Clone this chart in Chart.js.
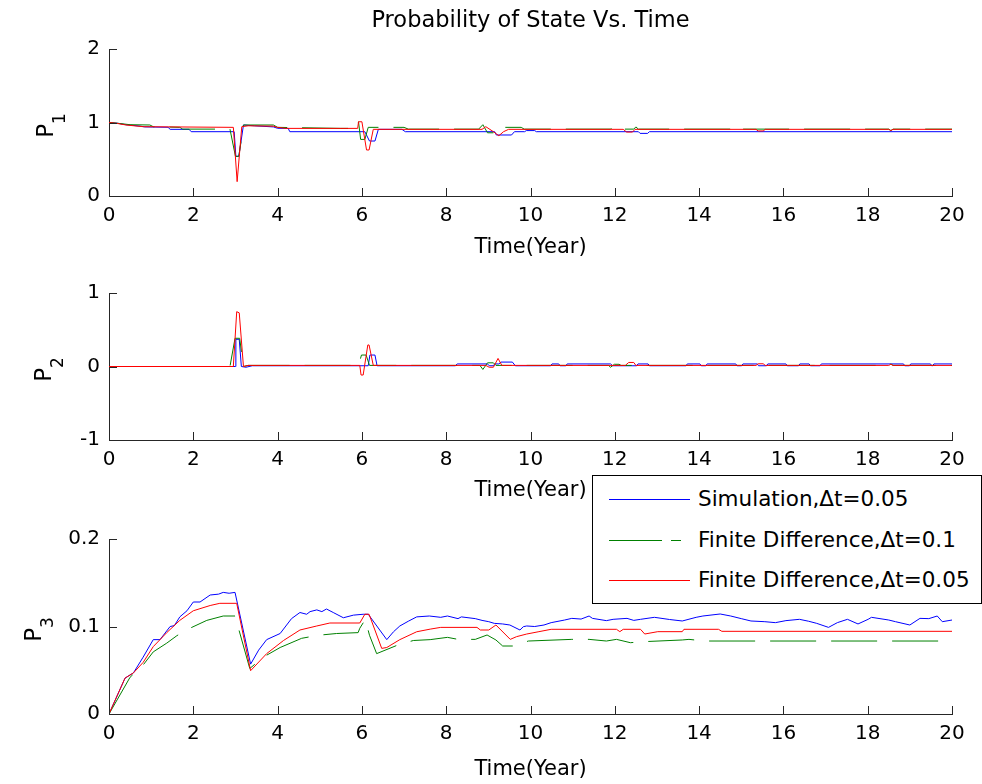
<!DOCTYPE html>
<html>
<head>
<meta charset="utf-8">
<script src="https://cdn.jsdelivr.net/npm/chart.js"></script>
<style>
    body { margin: 0; background: #fff; }
    #wrap { position: relative; width: 982px; height: 784px; overflow: hidden; font-family: "DejaVu Sans", sans-serif; }
    canvas { position: absolute; left: 0; }
    #legend { position: absolute; left: 592px; top: 475px; width: 390px; height: 129px; box-sizing: border-box;
        border: 1px solid #000; background: #fff; z-index: 10; }
    .row { position: absolute; left: 0; height: 26px; line-height: 26px; width: 100%; font-size: 21.5px; color: #000; }
    .row span.txt { position: absolute; left: 105px; white-space: nowrap; }
    .seg { position: absolute; top: 13px; height: 0; border-top-width: 1px; border-top-style: solid; }
</style>
</head>
<body>
<div id="wrap">
    <canvas id="chartP1" width="982" height="262" style="top:0px"></canvas>
    <canvas id="chartP2" width="982" height="242" style="top:262px"></canvas>
    <canvas id="chartP3" width="982" height="280" style="top:504px"></canvas>
    <div id="legend">
        <div class="row" style="top:10px">
            <div class="seg" style="left:16px;width:81px;border-top-color:#0000ff"></div>
            <span class="txt">Simulation,Δt=0.05</span>
        </div>
        <div class="row" style="top:51px">
            <div class="seg" style="left:16px;width:53px;border-top-color:#008000"></div>
            <div class="seg" style="left:78px;width:10px;border-top-color:#008000"></div>
            <span class="txt">Finite Difference,Δt=0.1</span>
        </div>
        <div class="row" style="top:91px">
            <div class="seg" style="left:16px;width:81px;border-top-color:#ff0000"></div>
            <span class="txt">Finite Difference,Δt=0.05</span>
        </div>
    </div>
</div>
<script>
// tick values
const timeTicks = [0, 2, 4, 6, 8, 10, 12, 14, 16, 18, 20];
const p1Ticks = [0, 1, 2];
const p2Ticks = [-1, 0, 1];
const p3Ticks = [0, 0.1, 0.2];

// [time, probability]
const p1Sim = [[0,1.0],[0.2,0.99],[0.4,0.97],[0.75,0.95],[0.85,0.94],[1.4,0.935],[1.45,0.907],[1.9,0.907],[1.95,0.875],[2.97,0.875],[3.01,0.54],[3.08,0.54],[3.19,0.966],[3.45,0.955],[3.9,0.94],[4.0,0.921],[4.25,0.921],[4.29,0.875],[6.07,0.875],[6.18,0.748],[6.31,0.748],[6.39,0.907],[6.95,0.907],[7.03,0.875],[9.15,0.875],[9.19,0.83],[9.55,0.83],[9.62,0.875],[9.86,0.875],[9.9,0.89],[10.1,0.89],[10.14,0.875],[12.56,0.875],[12.6,0.852],[12.78,0.852],[12.82,0.875],[20,0.875]];
const p1Fd01 = [[0,1.0],[0.2,0.99],[0.5,0.97],[0.97,0.966],[1.05,0.943],[1.68,0.934],[1.75,0.91],[2.87,0.91],[3.0,0.54],[3.08,0.54],[3.19,0.966],[3.9,0.966],[4.0,0.934],[5.5,0.92],[5.9,0.92],[5.92,1.01],[5.97,0.77],[6.07,0.77],[6.15,0.934],[7.0,0.934],[7.1,0.91],[8.77,0.91],[8.87,0.97],[8.98,0.86],[9.12,0.86],[9.19,0.934],[9.78,0.934],[9.85,0.91],[11.9,0.91],[11.95,0.94],[12.0,0.91],[12.45,0.91],[12.5,0.94],[12.56,0.91],[14.84,0.91],[14.88,0.94],[14.93,0.91],[18.5,0.91],[18.55,0.89],[18.6,0.91],[20,0.91]];
const p1Fd005 = [[0,1.0],[0.18,0.989],[0.4,0.966],[0.81,0.943],[2.95,0.934],[3.04,0.195],[3.15,0.943],[3.3,0.955],[3.9,0.95],[4.0,0.934],[4.2,0.92],[5.9,0.92],[5.92,1.01],[6.0,1.01],[6.11,0.626],[6.17,0.626],[6.27,0.907],[8.85,0.907],[8.94,0.943],[9.12,0.875],[9.25,0.82],[9.36,0.875],[9.48,0.907],[12.2,0.907],[12.28,0.87],[12.42,0.87],[12.48,0.907],[15.35,0.907],[15.4,0.885],[15.52,0.885],[15.57,0.907],[18.5,0.907],[18.55,0.89],[18.6,0.907],[20,0.907]];

const p2Sim = [[0,0],[3.0,0],[3.01,0.37],[3.09,0.37],[3.14,0],[3.25,-0.01],[3.4,0.01],[6.15,0.01],[6.19,0.156],[6.31,0.156],[6.36,0.01],[8.22,0.01],[8.26,0.035],[8.98,0.035],[9.02,0.01],[9.12,0.01],[9.15,0.035],[9.25,0.035],[9.3,0.06],[9.57,0.06],[9.64,0.01],[10.48,0.01],[10.51,0.035],[10.67,0.035],[10.7,0.01],[10.84,0.01],[10.87,0.035],[11.9,0.035],[11.95,0.01],[12.52,0.01],[12.55,0.035],[12.79,0.035],[12.82,0.01],[13.69,0.01],[13.72,0.035],[14.02,0.035],[14.05,0.01],[14.16,0.01],[14.19,0.035],[14.87,0.035],[14.9,0.01],[15.01,0.01],[15.04,0.035],[15.38,0.035],[15.41,0.01],[15.6,0.01],[15.63,0.035],[16.06,0.035],[16.09,0.01],[16.36,0.01],[16.39,0.035],[16.61,0.035],[16.64,0.01],[16.87,0.01],[16.9,0.035],[18.85,0.035],[18.88,0.01],[18.99,0.01],[19.02,0.035],[19.49,0.035],[19.52,0.01],[19.54,0.01],[19.57,0.035],[20,0.035]];
const p2Fd01 = [[0,0],[2.87,0],[2.99,0.384],[3.1,0.384],[3.19,0],[3.3,0.015],[5.92,0.015],[5.99,0.156],[6.1,0.156],[6.18,0.015],[8.8,0.015],[8.87,-0.04],[8.98,0.05],[9.12,0.05],[9.18,0.015],[11.85,0.015],[11.9,-0.01],[11.99,0.03],[12.1,0.03],[12.15,0.015],[18.5,0.015],[18.55,0.035],[18.6,0.015],[20,0.015]];
const p2Fd005 = [[0,0],[2.95,0],[3.03,0.746],[3.09,0.73],[3.19,0],[3.3,0.015],[5.95,0.015],[5.98,-0.116],[6.03,-0.116],[6.14,0.293],[6.17,0.293],[6.27,0.015],[8.94,0.015],[9.02,-0.01],[9.12,-0.01],[9.23,0.11],[9.32,0.015],[12.25,0.015],[12.33,0.055],[12.45,0.055],[12.5,0.015],[15.35,0.015],[15.4,0.037],[15.52,0.037],[15.57,0.015],[18.5,0.015],[18.55,0.03],[18.6,0.015],[20,0.015]];

const p3Sim = [[0,0],[0.38,0.041],[0.58,0.047],[0.81,0.065],[1.05,0.085],[1.21,0.085],[1.45,0.1],[1.55,0.101],[1.68,0.111],[1.85,0.118],[2.0,0.128],[2.16,0.128],[2.4,0.136],[2.6,0.137],[2.71,0.139],[2.85,0.138],[2.99,0.139],[3.36,0.057],[3.55,0.073],[3.74,0.085],[4.06,0.092],[4.33,0.109],[4.53,0.116],[4.69,0.114],[4.77,0.117],[4.93,0.119],[5.05,0.117],[5.16,0.12],[5.32,0.116],[5.56,0.11],[5.8,0.113],[6.03,0.114],[6.15,0.114],[6.59,0.085],[6.75,0.094],[6.9,0.1006],[7.1,0.106],[7.3,0.111],[7.6,0.112],[7.87,0.1105],[8.03,0.112],[8.28,0.109],[8.36,0.111],[8.69,0.109],[8.85,0.107],[9.01,0.1055],[9.14,0.1036],[9.34,0.1029],[9.51,0.1017],[9.75,0.096],[9.83,0.0998],[9.91,0.1006],[10.1,0.1],[10.32,0.1017],[10.49,0.1044],[10.81,0.1074],[10.98,0.1093],[11.2,0.1085],[11.39,0.112],[11.47,0.1093],[11.8,0.1067],[11.96,0.1082],[12.29,0.1093],[12.45,0.107],[12.61,0.1082],[12.94,0.1105],[13.3,0.108],[13.6,0.1063],[13.93,0.1105],[14.09,0.112],[14.5,0.1143],[14.75,0.112],[15.0,0.109],[15.23,0.1063],[15.56,0.1055],[15.81,0.1044],[16.06,0.1067],[16.38,0.1082],[16.6,0.106],[16.79,0.1036],[17.07,0.099],[17.28,0.1044],[17.52,0.1082],[17.77,0.1029],[18.01,0.1082],[18.09,0.1105],[18.5,0.1074],[18.66,0.1055],[19.0,0.1017],[19.24,0.1093],[19.45,0.109],[19.65,0.112],[19.77,0.1055],[20,0.1074]];
const p3Fd01 = [[0,0],[0.5,0.042],[0.81,0.056],[1.05,0.071],[1.37,0.081],[1.61,0.0895],[1.92,0.098],[2.32,0.107],[2.71,0.112],[2.99,0.112],[3.34,0.052],[3.66,0.065],[4.06,0.076],[4.57,0.0865],[4.97,0.09],[5.4,0.092],[5.91,0.093],[5.95,0.098],[6.08,0.108],[6.18,0.09],[6.35,0.069],[6.86,0.079],[7.22,0.084],[7.62,0.085],[8.03,0.0876],[8.28,0.0853],[8.69,0.0853],[8.97,0.0903],[9.18,0.0846],[9.34,0.0777],[9.59,0.0777],[9.95,0.0834],[10.98,0.0853],[11.39,0.0853],[11.8,0.0834],[12.04,0.0853],[12.37,0.0815],[12.7,0.0827],[13.6,0.0846],[13.76,0.0853],[14.13,0.0834],[20,0.0834]];
const p3Fd005 = [[0,0],[0.38,0.041],[0.58,0.047],[0.81,0.059],[1.05,0.077],[1.37,0.093],[1.68,0.107],[2.0,0.118],[2.4,0.124],[2.63,0.1265],[3.03,0.1265],[3.36,0.0495],[3.74,0.069],[4.14,0.084],[4.53,0.096],[4.93,0.1006],[5.24,0.104],[5.95,0.104],[6.07,0.114],[6.17,0.114],[6.47,0.075],[6.59,0.076],[6.9,0.085],[7.3,0.094],[7.62,0.097],[7.87,0.099],[8.73,0.099],[8.81,0.096],[9.01,0.096],[9.18,0.1017],[9.52,0.0853],[9.67,0.0884],[9.91,0.0914],[10.2,0.0941],[10.49,0.0968],[12.04,0.0968],[12.12,0.0941],[12.2,0.0968],[12.61,0.0968],[12.71,0.0914],[13.02,0.0941],[13.6,0.0941],[13.64,0.0968],[14.46,0.0968],[14.54,0.0945],[20,0.0945]];

Chart.defaults.font.family = '"DejaVu Sans", sans-serif';
Chart.defaults.color = '#000';

const toXY = arr => arr.map(p => ({ x: p[0], y: p[1] }));

// MATLAB style ticks pointing into the axes
const inwardTicks = {
    id: 'inwardTicks',
    afterDatasetsDraw(chart) {
        const { ctx, chartArea, scales } = chart;
        ctx.save();
        ctx.strokeStyle = '#262626';
        ctx.lineWidth = 1;
        ctx.beginPath();
        scales.x.ticks.forEach(t => {
            const px = Math.round(scales.x.getPixelForValue(t.value)) + 0.5;
            ctx.moveTo(px, chartArea.bottom);
            ctx.lineTo(px, chartArea.bottom - 8);
        });
        scales.y.ticks.forEach(t => {
            const py = Math.round(scales.y.getPixelForValue(t.value)) + 0.5;
            ctx.moveTo(chartArea.left, py);
            ctx.lineTo(chartArea.left + 8, py);
        });
        ctx.stroke();
        ctx.restore();
    }
};

// rotated y label with subscript, e.g. P_1
const subLabel = {
    id: 'subLabel',
    afterDraw(chart, args, opts) {
        const { ctx, chartArea } = chart;
        const cy = (chartArea.top + chartArea.bottom) / 2;
        ctx.save();
        ctx.translate(opts.cx, cy);
        ctx.rotate(-Math.PI / 2);
        ctx.fillStyle = '#000';
        ctx.textBaseline = 'alphabetic';
        ctx.textAlign = 'left';
        ctx.font = '23px "DejaVu Sans"';
        const w1 = ctx.measureText(opts.base).width;
        ctx.font = '17px "DejaVu Sans"';
        const w2 = ctx.measureText(opts.sub).width;
        const x0 = -(w1 + w2) / 2 - 3;
        ctx.font = '23px "DejaVu Sans"';
        ctx.fillText(opts.base, x0, 8.5);
        ctx.font = '17px "DejaVu Sans"';
        ctx.fillText(opts.sub, x0 + w1, 20.5);
        ctx.restore();
    }
};

function makePanel(id, sim, fd01, fd005, yMin, yMax, yTicks, sub, labelX, axisH, titleBottom, padTop, showTitle) {
    return new Chart(document.getElementById(id), {
        type: 'line',
        data: {
            datasets: [
                { label: 'Simulation,Δt=0.05', data: toXY(sim), borderColor: '#0000ff', order: 3 },
                { label: 'Finite Difference,Δt=0.1', data: toXY(fd01), borderColor: '#008000', borderDash: [46, 15], order: 2 },
                { label: 'Finite Difference,Δt=0.05', data: toXY(fd005), borderColor: '#ff0000', order: 1 }
            ]
        },
        options: {
            responsive: false,
            animation: false,
            layout: { padding: { left: 0, right: 30, top: padTop, bottom: 0 } },
            elements: {
                point: { radius: 0 },
                line: { borderWidth: 1, tension: 0, fill: false }
            },
            scales: {
                x: {
                    type: 'linear',
                    min: 0,
                    max: 20,
                    afterBuildTicks: s => { s.ticks = timeTicks.map(v => ({ value: v })); },
                    afterFit: s => { s.height = axisH; },
                    grid: { display: false, drawTicks: false },
                    border: { display: true, color: '#262626', width: 1 },
                    ticks: { font: { size: 20 }, padding: 8, maxRotation: 0 },
                    title: { display: true, text: 'Time(Year)', font: { size: 21 }, padding: { top: 0, bottom: titleBottom } }
                },
                y: {
                    min: yMin,
                    max: yMax,
                    afterBuildTicks: s => { s.ticks = yTicks.map(v => ({ value: v })); },
                    afterFit: s => { s.width = 109; },
                    grid: { display: false, drawTicks: false },
                    border: { display: true, color: '#262626', width: 1 },
                    ticks: { font: { size: 20 }, padding: 9 }
                }
            },
            plugins: {
                legend: { display: false },
                tooltip: { enabled: false },
                title: {
                    display: showTitle,
                    fullSize: false,
                    text: 'Probability of State Vs. Time',
                    font: { size: 22.5, weight: 'normal' },
                    padding: { top: 7.5, bottom: 14.5 }
                },
                subLabel: { base: 'P', sub: sub, cx: labelX }
            }
        },
        plugins: [inwardTicks, subLabel]
    });
}

makePanel('chartP1', p1Sim, p1Fd01, p1Fd005, 0, 2, p1Ticks, '1', 44.5, 66, 1.4, 0, true);
makePanel('chartP2', p2Sim, p2Fd01, p2Fd005, -1, 1, p2Ticks, '2', 42, 64, 0.4, 31, false);
makePanel('chartP3', p3Sim, p3Fd01, p3Fd005, 0, 0.2, p3Ticks, '3', 32, 70, 1.4, 35, false);
</script>
</body>
</html>
